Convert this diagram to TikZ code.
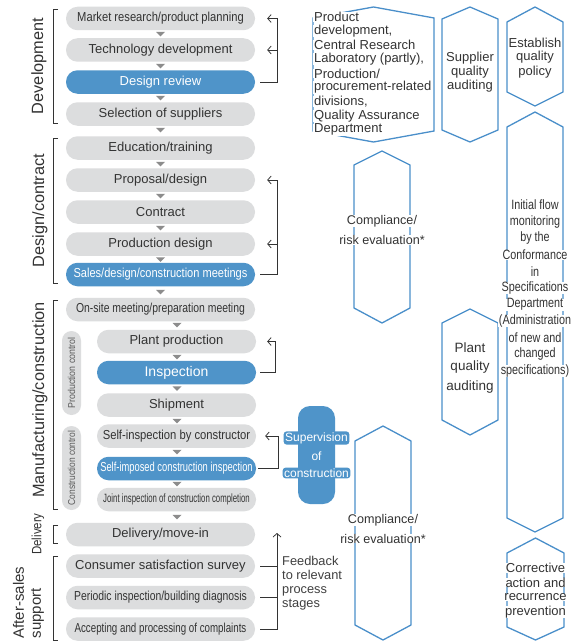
\documentclass[tikz,border=0pt]{standalone}
\usepackage{graphicx}
\usepackage{fontspec}
\setmainfont{Liberation Sans}
\usetikzlibrary{arrows.meta}
\definecolor{boxgray}{HTML}{DCDDDE}
\definecolor{boxblue}{HTML}{4F94C9}
\definecolor{hexblue}{HTML}{4A8FCA}
\definecolor{txt}{HTML}{333333}
\definecolor{trigray}{HTML}{8C8C8C}
\newcommand\fsz[2]{\fontsize{#1}{#2}\selectfont}
\newcommand\cond[2]{\scalebox{#1}[1]{#2}}
\newcommand\hexshape[6]{\draw[hexline] (#1,#4) -- ({(#1+#2)/2},#3) -- (#2,#4) -- (#2,#5) -- ({(#1+#2)/2},#6) -- (#1,#5) -- cycle;}
\newcommand\tri[2]{\fill[trigray] (#1-4.5,#2-2.2) -- (#1+4.5,#2-2.2) -- (#1,#2+2.3) -- cycle;}
\begin{document}
\begin{tikzpicture}[x=1pt,y=-1pt,
  stepbox/.style={fill=boxgray, rounded corners=11.5pt, minimum height=23.5pt, minimum width=189pt, inner sep=0pt, text=txt, font=\fsz{13}{15}},
  subbox/.style={stepbox, minimum width=159pt},
  bluebox/.style={fill=boxblue, text=white},
  grp/.style={rotate=90, text=txt, font=\fsz{16.3}{18}, inner sep=0pt},
  bracket/.style={draw=txt, line width=0.7pt},
  fb/.style={draw=txt, line width=0.75pt, -{Straight Barb[length=3.5pt,width=8pt]}},
  fbline/.style={draw=txt, line width=0.75pt},
  hexline/.style={draw=hexblue, line width=1.3pt, line join=miter},
  hl/.style={fill=white, inner xsep=0.8pt, inner ysep=0pt, text=txt, font=\fsz{13}{14}},
  pill/.style={fill=boxgray, rounded corners=9.5pt, minimum height=19pt, inner sep=0pt, text=black!65, font=\fsz{10}{11}},
  suptxt/.style={fill=boxblue, text=white, rounded corners=3pt, inner xsep=1.5pt, inner ysep=1pt, font=\fsz{12}{13}}
]
\useasboundingbox (0,0) rectangle (574,642);
\fill[white] (0,0) rectangle (574,642);

% ---------- left column boxes ----------
\node[stepbox] (mr) at (160.5,18.5) {\cond{0.86}{Market research/product planning}};
\node[stepbox] (td) at (160.5,50) {Technology development};
\node[stepbox,bluebox] (dr) at (160.5,82) {Design review};
\node[stepbox] (ss) at (160.5,114) {Selection of suppliers};
\node[stepbox] (et) at (160.5,148) {Education/training};
\node[stepbox] (pd) at (160.5,180) {Proposal/design};
\node[stepbox] (ct) at (160.5,212) {Contract};
\node[stepbox] (pr) at (160.5,244) {Production design};
\node[stepbox,bluebox] (sd) at (160.5,274.5) {\cond{0.85}{Sales/design/construction meetings}};
\node[stepbox] (os) at (160.5,309.5) {\cond{0.8}{On-site meeting/preparation meeting}};
\node[subbox] (pp) at (176.5,341.5) {Plant production};
\node[subbox,bluebox,font=\fsz{14}{15}] (insp) at (176.5,372.5) {Inspection};
\node[subbox] (sh) at (176.5,405) {Shipment};
\node[subbox] (si) at (176.5,436) {\cond{0.865}{Self-inspection by constructor}};
\node[subbox,bluebox] (sc) at (176.5,468.5) {\cond{0.72}{Self-imposed construction inspection}};
\node[subbox,font=\fsz{12}{13}] (ji) at (176.5,499.5) {\cond{0.65}{Joint inspection of construction completion}};
\node[stepbox] (dm) at (160.5,534.5) {Delivery/move-in};
\node[stepbox] (cs) at (160.5,566) {Consumer satisfaction survey};
\node[stepbox] (pi) at (160.5,597.5) {\cond{0.8}{Periodic inspection/building diagnosis}};
\node[stepbox] (ac) at (160.5,629) {\cond{0.75}{Accepting and processing of complaints}};

% ---------- flow triangles ----------
\tri{160.5}{34}\tri{160.5}{66}\tri{160.5}{98}\tri{160.5}{130}
\tri{160.5}{164}\tri{160.5}{196}\tri{160.5}{228}\tri{160.5}{259.5}
\tri{160.5}{292}\tri{177}{325}\tri{177}{357}\tri{177}{388.5}
\tri{177}{421}\tri{177}{452}\tri{177}{484}\tri{177}{517}

% ---------- control pills ----------
\node[pill, rotate=90, minimum width=84pt] (pc) at (71.5,373) {\cond{0.88}{Production control}};
\node[pill, rotate=90, minimum width=84pt] (cc) at (71.5,468) {\cond{0.84}{Construction control}};

% ---------- brackets and group labels ----------
\draw[bracket] (58,9) -- (53,9) -- (53,123) -- (58,123);
\draw[bracket] (58,138) -- (53,138) -- (53,283) -- (58,283);
\draw[bracket] (58,300) -- (53,300) -- (53,509) -- (58,509);
\draw[bracket] (58,525) -- (53,525) -- (53,543) -- (58,543);
\draw[bracket] (58,556) -- (53,556) -- (53,640) -- (58,640);
\node[grp] (gdev) at (39,66) {Development};
\node[grp] (gdes) at (40,210.5) {Design/contract};
\node[grp] (gman) at (40,400) {Manufacturing/construction};
\node[grp,font=\fsz{13.5}{15}] (gdel) at (38,534) {\cond{0.85}{Delivery}};
\node[grp,font=\fsz{15}{17},align=left] (gaft) at (28.5,602.5) {After-sales\\support};

% ---------- feedback loops ----------
\draw[fb] ([xshift=5pt]dr.east) -| ([xshift=22pt]mr.east) -- ([xshift=12pt]mr.east);
\draw[fb] ([xshift=22pt]td.east) -- ([xshift=12pt]td.east);
\draw[fb] ([xshift=5pt]sd.east) -| ([xshift=22pt]pd.east) -- ([xshift=12pt]pd.east);
\draw[fb] ([xshift=22pt]pr.east) -- ([xshift=12pt]pr.east);
\draw[fb] ([xshift=4pt]insp.east) -| ([xshift=19pt]pp.east) -- ([xshift=11pt]pp.east);
\draw[fb] ([xshift=2pt]sc.east) -| ([xshift=22pt]si.east) -- ([xshift=9pt]si.east);
\coordinate (fbtop) at (277,533);
\draw[fb] ([xshift=5pt]ac.east) -| (fbtop);
\draw[fbline] ([xshift=5pt]cs.east) -- (cs.east -| fbtop);
\draw[fbline] ([xshift=5pt]pi.east) -- (pi.east -| fbtop);
\node[anchor=north west, align=left, font=\fsz{12.8}{14}, text=black!75, inner sep=0pt] (fbt) at (282,556) {Feedback\\to relevant\\process\\stages};

% ---------- supervision ----------
\node[fill=boxblue, rounded corners=12pt, minimum width=37pt, minimum height=98pt, inner sep=0pt] (sup) at (316.5,455) {};
\node[suptxt] (sup1) at (316.5,438) {Supervision};
\node[suptxt] (sup2) at (316.5,456) {of};
\node[suptxt] (sup3) at (316.5,473) {construction};

% ---------- hexagons ----------
\hexshape{313}{434}{7}{18}{131}{142}
\hexshape{442}{498}{7}{19}{130}{142}
\hexshape{507}{563}{7}{22}{92}{106}
\hexshape{507}{563}{112}{127}{518}{532}
\hexshape{354}{410}{151}{165}{308}{323}
\hexshape{355}{411}{426}{441}{625}{640}
\hexshape{442}{498}{309}{323}{420}{435}
\hexshape{507}{564}{538}{553}{627}{640}

% ---------- hexagon texts ----------
\foreach \mytext [count=\i] in {{Product},{development,},{Central Research},{Laboratory (partly),},{Production/},{procurement-related},{divisions,},{Quality Assurance},{Department}}
  \node[hl, anchor=west] (hpd\i) at (313.2,{17+(\i-1)*14.1}) {\mytext};
\foreach \mytext [count=\i] in {{Supplier},{quality},{auditing}}
  \node[hl] (hsq\i) at (470,{58+(\i-1)*14}) {\mytext};
\foreach \mytext [count=\i] in {{Establish},{quality},{policy}}
  \node[hl] (heq\i) at (535,{43+(\i-1)*14.5}) {\mytext};
\foreach \mytext [count=\i] in {{Compliance/},{risk evaluation*}}
  \node[hl, font=\fsz{12.6}{14}] (hca\i) at (382,{221+(\i-1)*19}) {\mytext};
\foreach \mytext [count=\i] in {{Compliance/},{risk evaluation*}}
  \node[hl, font=\fsz{12.6}{14}] (hcb\i) at (383,{520+(\i-1)*18.5}) {\mytext};
\foreach \mytext [count=\i] in {{Plant},{quality},{auditing}}
  \node[hl, font=\fsz{13.5}{15}] (hpq\i) at (470,{348+(\i-1)*19.5}) {\mytext};
\foreach \mytext [count=\i] in {{Initial flow},{monitoring},{by the},{Conformance},{in},{Specifications},{Department},{(Administration},{of new and},{changed},{specifications)}}
  \node[hl, font=\fsz{13.5}{15}] (hif\i) at (535,{205+(\i-1)*16.6}) {\cond{0.8}{\mytext}};
\foreach \mytext [count=\i] in {{Corrective},{action and},{recurrence},{prevention}}
  \node[hl] (hcr\i) at (535.5,{568+(\i-1)*14.6}) {\mytext};
\end{tikzpicture}
\end{document}
